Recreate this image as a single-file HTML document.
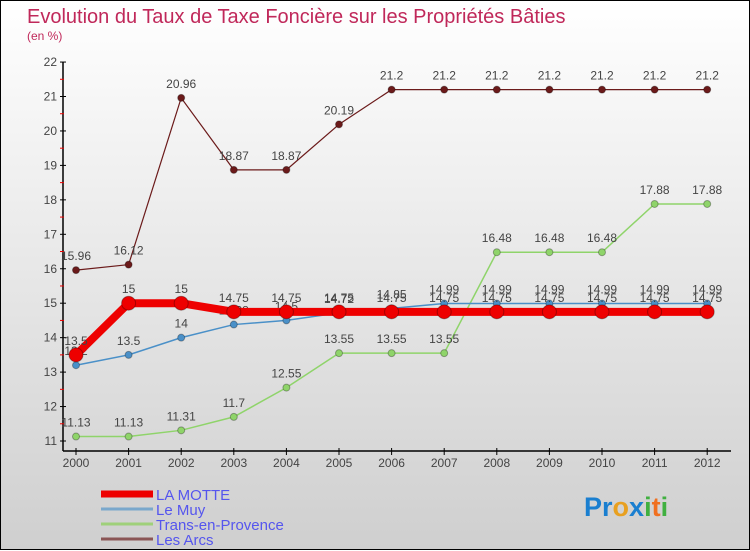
<!DOCTYPE html>
<html><head><meta charset="utf-8"><style>
body{margin:0;width:750px;height:550px;overflow:hidden;font-family:"Liberation Sans",sans-serif}
#wrap{position:relative;width:748px;height:548px;border:1px solid #000;background:linear-gradient(#ffffff,#cfcfcf)}
svg{position:absolute;left:0;top:0}
</style></head><body>
<div id="wrap">
<svg id="chart" width="750" height="550">
<text x="26" y="22" font-size="20" fill="#c0285a">Evolution du Taux de Taxe Foncière sur les Propriétés Bâties</text>
<text x="26" y="39" font-size="12" fill="#c0285a">(en %)</text>
<g id="axes"></g><g id="series"></g><g id="legend"></g>
<text x="583" y="515" font-size="27" font-weight="bold"><tspan fill="#1a7fd0">Pr</tspan><tspan fill="#e8a020">o</tspan><tspan fill="#1a7fd0">x</tspan><tspan fill="#40b040">i</tspan><tspan fill="#f07020">t</tspan><tspan fill="#40b040">i</tspan></text>
</svg></div>
<script>
const years=[2000,2001,2002,2003,2004,2005,2006,2007,2008,2009,2010,2011,2012];
const yTicks=[11,12,13,14,15,16,17,18,19,20,21,22];
const laMotte=[13.5,15,15,14.75,14.75,14.75,14.75,14.75,14.75,14.75,14.75,14.75,14.75];
const leMuy=[13.2,13.5,14,14.38,14.5,14.72,14.85,14.99,14.99,14.99,14.99,14.99,14.99];
const trans=[11.13,11.13,11.31,11.7,12.55,13.55,13.55,13.55,16.48,16.48,16.48,17.88,17.88];
const arcs=[15.96,16.12,20.96,18.87,18.87,20.19,21.2,21.2,21.2,21.2,21.2,21.2,21.2];
const NS="http://www.w3.org/2000/svg";
const X=i=>75+i*52.6, Y=v=>440-(v-11)*34.45;
function mk(tag,attrs,parent,txt){const e=document.createElementNS(NS,tag);for(const k in attrs)e.setAttribute(k,attrs[k]);if(txt!==undefined)e.textContent=txt;parent.appendChild(e);return e;}
const ax=document.getElementById('axes');
let a=mk('line',{x1:62,y1:Y(22),x2:62,y2:450,stroke:'#000','stroke-width':1.5},ax);


a=mk('line',{x1:62,y1:450,x2:730,y2:450,stroke:'#000','stroke-width':1.5},ax);


yTicks.forEach(v=>{
 mk('line',{x1:59,y1:Y(v),x2:65,y2:Y(v),stroke:'#000'},ax);
 if(v<22) mk('line',{x1:59,y1:Y(v+0.5),x2:63,y2:Y(v+0.5),stroke:'#e00'},ax);
 const t=mk('text',{x:56,y:Y(v)+4,'font-size':12,fill:'#444','text-anchor':'end'},ax,v);
 
 
});
years.forEach((yr,i)=>{
 mk('line',{x1:X(i),y1:447,x2:X(i),y2:454,stroke:'#000'},ax);
 const t=mk('text',{x:X(i),y:466,'font-size':12,fill:'#444','text-anchor':'middle'},ax,yr);
 
 
});
const sg=document.getElementById('series');
function series(vals,color,w,r,name){
 const g=mk('g',{},sg);
 
 
 mk('polyline',{points:vals.map((v,i)=>X(i)+','+Y(v)).join(' '),fill:'none',stroke:color,'stroke-width':w},g);
 vals.forEach((v,i)=>{
  const c=mk('circle',{cx:X(i),cy:Y(v),r:r,fill:color,stroke:'rgba(0,0,0,0.3)'},g);
  
  
  mk('text',{x:X(i),y:Y(v)-10,'font-size':12,fill:'#444','text-anchor':'middle'},g,v);
 });
}
series(arcs,'#6b1a1a',1.2,3.5,'les-arcs-series');
series(trans,'#8fd46a',1.5,3.5,'trans-series');
series(leMuy,'#4a90c8',1.5,3.5,'le-muy-series');
series(laMotte,'#ee0000',8,7,'la-motte-series');
const lg=document.getElementById('legend');
[['LA MOTTE','#ee0000',7],['Le Muy','#7aa8cc',3],['Trans-en-Provence','#9fd07a',3],['Les Arcs','#8a5555',3]].forEach((d,i)=>{
 const y=493+i*15;
 const g=mk('g',{},lg);
 
 
 mk('line',{x1:100,y1:y,x2:152,y2:y,stroke:d[1],'stroke-width':d[2]},g);
 mk('text',{x:155,y:y+6,'font-size':15,fill:'#5555ee'},g,d[0]);
});
</script>
</body></html>
